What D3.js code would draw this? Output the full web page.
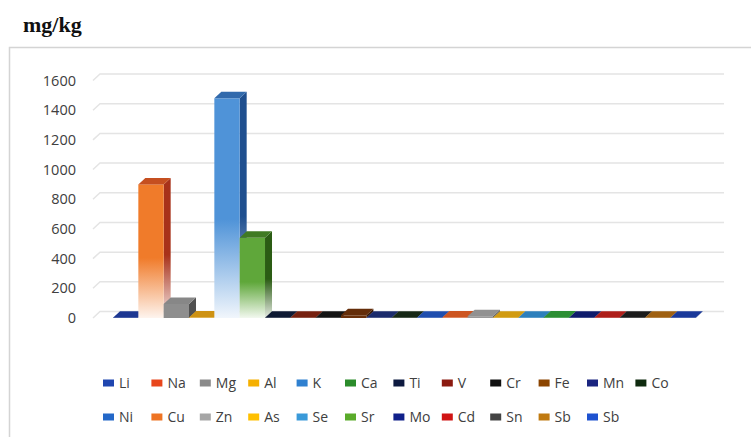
<!DOCTYPE html>
<html>
<head>
<meta charset="utf-8">
<script src="https://cdn.jsdelivr.net/npm/d3@7"></script>
<style>
  html, body { margin: 0; padding: 0; background: #fff; }
  svg { display: block; }
</style>
</head>
<body>
<svg id="chart" width="751" height="437"></svg>
<script>
// Element concentrations (mg/kg), one 3D column per element
const categories = ["Li","Na","Mg","Al","K","Ca","Ti","V","Cr","Fe","Mn","Co",
                    "Ni","Cu","Zn","As","Se","Sr","Mo","Cd","Sn","Sb","Sb"];
const values = [2, 900, 95, 3, 1480, 540, 1, 1, 1, 18, 1, 1,
                1, 3, 12, 1, 1, 4, 1, 1, 1, 1, 1];
const colors = ["#1f3a9a","#f07b2a","#8e8e8e","#d99a14","#4f93d8","#5fa73a","#0f1a36","#7c2210","#151515","#6a300a","#1c2d72","#172a17",
                "#2152b8","#d85a22","#999999","#dca312","#2f86c6","#2e9636","#0f1c72","#b8201a","#1c1c1c","#a86512","#1b3ca2"];
const sideColors = ["#14266a","#a8321a","#505050","#8a5f08","#1f4f8f","#2b5c14","#05080f","#4a1208","#050505","#3a1a04","#0f1a48","#0a170a",
                    "#12337a","#8a3410","#5a5a5a","#8a660a","#1a5482","#17591d","#070f48","#741210","#0a0a0a","#6a3d08","#0f2468"];
const legendColors = ["#1f46b0","#e8461c","#8a8a8a","#f5b000","#2f80d0","#2b8c2b","#0d1a40","#8b1a10","#111111","#8b4400","#1a2580","#0f2b0f",
                      "#2468c8","#ee7424","#a6a6a6","#ffc000","#3a9ad9","#5aab2a","#10208a","#d01414","#444444","#c07a10","#1e52d0"];
const yTicks = [0, 200, 400, 600, 800, 1000, 1200, 1400, 1600];
const unitLabel = "mg/kg";

const svg = d3.select("#chart");
const DX = 7, DY = -6.5;   // depth offset of the 3D columns

// chart frame (right and bottom edges run past the page)
svg.append("path")
  .attr("d", "M9.5,460V47.5H780")
  .attr("fill", "none").attr("stroke", "#d4d4d4").attr("stroke-width", 1.5);

// unit title
svg.append("text")
  .attr("x", 23).attr("y", 32)
  .attr("font-family", "'Liberation Serif', 'Times New Roman', serif")
  .attr("font-weight", "bold").attr("font-size", 22).attr("fill", "#111")
  .text(unitLabel);

const x = d3.scaleBand().domain(d3.range(categories.length)).range([113, 695.7]).padding(0);
const y = d3.scaleLinear().domain([0, 1600]).range([318, 80.5]);

// back-wall gridlines with their short floor-edge diagonals
svg.append("g").selectAll("path").data(yTicks).join("path")
  .attr("d", t => `M93,${y(t)}L${93 + DX},${y(t) + DY}L724,${y(t) + DY}`)
  .attr("fill", "none").attr("stroke", "#e4e4e4").attr("stroke-width", 1.5);

// value axis labels
const yAxis = svg.append("g").attr("transform", "translate(80,0)")
  .call(d3.axisLeft(y).tickValues(yTicks).tickSize(0).tickPadding(4).tickFormat(d3.format("d")));
yAxis.select(".domain").remove();
yAxis.selectAll("text")
  .attr("font-family", "'Open Sans', 'Noto Sans', sans-serif")
  .attr("font-size", 14.5).attr("fill", "#404040");

// gradients fading the tall columns towards their base
const defs = svg.append("defs");
function fade(id, c, amount) {
  const g = defs.append("linearGradient").attr("id", id)
    .attr("x1", 0).attr("y1", 0).attr("x2", 0).attr("y2", 1);
  g.append("stop").attr("offset", 0).attr("stop-color", c);
  g.append("stop").attr("offset", 0.55).attr("stop-color", c);
  g.append("stop").attr("offset", 1).attr("stop-color", d3.interpolateRgb(c, "#fff")(amount));
}
colors.forEach((c, i) => {
  fade("front" + i, c, 0.92);
  fade("side" + i, sideColors[i], 0.88);
});

// 3D columns, drawn left to right so each covers its neighbour's side
const bars = svg.append("g").selectAll("g").data(values).join("g");
bars.each(function(v, i) {
  const g = d3.select(this);
  const x0 = x(i), x1 = x(i) + x.bandwidth();
  const yb = y(0), yt = y(v);
  const tall = (yb - yt) > 40;
  const c = colors[i];
  // side face
  g.append("path")
    .attr("d", `M${x1},${yt}L${x1 + DX},${yt + DY}L${x1 + DX},${yb + DY}L${x1},${yb}Z`)
    .attr("fill", tall ? `url(#side${i})` : sideColors[i]);
  // front face
  g.append("rect")
    .attr("x", x0).attr("y", yt).attr("width", x.bandwidth()).attr("height", Math.max(0, yb - yt))
    .attr("fill", tall ? `url(#front${i})` : c);
  // top face
  g.append("path")
    .attr("d", `M${x0},${yt}L${x1},${yt}L${x1 + DX},${yt + DY}L${x0 + DX},${yt + DY}Z`)
    .attr("fill", tall ? d3.interpolateRgb(c, sideColors[i])(0.6) : d3.color(c).darker(0.15));
});

// legend, two rows of shared columns
const cols = 12, colW = 48.4, legX = 103, rowY = [383, 417];
const leg = svg.append("g").selectAll("g").data(categories).join("g")
  .attr("transform", (d, i) => `translate(${legX + (i % cols) * colW},${rowY[Math.floor(i / cols)]})`);
leg.append("rect").attr("x", 0).attr("y", -3.5).attr("width", 11).attr("height", 7)
  .attr("fill", (d, i) => legendColors[i]);
leg.append("text").attr("x", 16).attr("y", 0).attr("dy", "0.36em")
  .attr("font-family", "'Open Sans', 'Noto Sans', sans-serif")
  .attr("font-size", 14).attr("fill", "#404040")
  .text(d => d);
</script>
</body>
</html>
